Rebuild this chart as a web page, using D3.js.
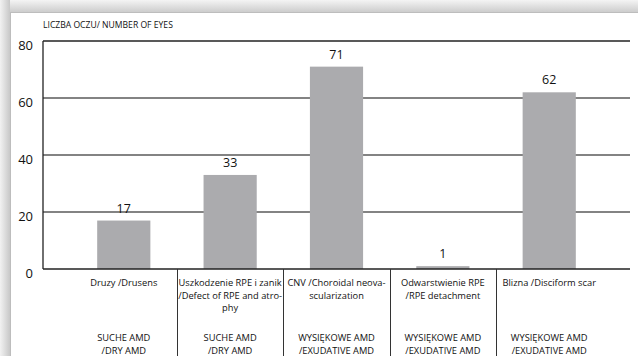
<!DOCTYPE html>
<html><head><meta charset="utf-8">
<script src="https://cdn.jsdelivr.net/npm/d3@7"></script>
<style>body{margin:0;background:#fff}svg{display:block}text{font-family:"Open Sans",sans-serif;fill:#111}</style>
</head><body><svg id="c" width="638" height="356"></svg>
<script>
const categories = [
  ["Druzy /Drusens"],
  ["Uszkodzenie RPE i zanik", "/Defect of RPE and atro-", "phy"],
  ["CNV /Choroidal neova-", "scularization"],
  ["Odwarstwienie RPE", "/RPE detachment"],
  ["Blizna /Disciform scar"]
];
const groups = [
  ["SUCHE AMD", "/DRY AMD"],
  ["SUCHE AMD", "/DRY AMD"],
  ["WYSIĘKOWE AMD", "/EXUDATIVE AMD"],
  ["WYSIĘKOWE AMD", "/EXUDATIVE AMD"],
  ["WYSIĘKOWE AMD", "/EXUDATIVE AMD"]
];
const values = [17, 33, 71, 1, 62];
const yTicks = [0, 20, 40, 60, 80];
const yTitle = "LICZBA OCZU/ NUMBER OF EYES";

(function(){
const svg = d3.select("#c");
const defs = svg.append("defs");
const gl = defs.append("linearGradient").attr("id","gl").attr("x1",0).attr("x2",1).attr("y1",0).attr("y2",0);
gl.append("stop").attr("offset",0).attr("stop-color","#f2f2f2");
gl.append("stop").attr("offset",1).attr("stop-color","#c8c8c8");
const gt = defs.append("linearGradient").attr("id","gt").attr("x1",0).attr("x2",0).attr("y1",0).attr("y2",1);
gt.append("stop").attr("offset",0).attr("stop-color","#f4f4f4");
gt.append("stop").attr("offset",1).attr("stop-color","#cdcdcd");

svg.append("rect").attr("x",0).attr("y",0).attr("width",638).attr("height",12).attr("fill","url(#gt)");
svg.append("rect").attr("x",0).attr("y",0).attr("width",10).attr("height",356).attr("fill","url(#gl)");
svg.append("rect").attr("x",10).attr("y",12).attr("width",628).attr("height",344).attr("fill","#fff");
svg.append("line").attr("x1",10).attr("x2",638).attr("y1",12.5).attr("y2",12.5).attr("stroke","#bdbdbd");
svg.append("line").attr("x1",10.5).attr("x2",10.5).attr("y1",12).attr("y2",356).attr("stroke","#bdbdbd");

const pLeft = 43, pRight = 630, pTop = 41, pBottom = 269;
const x = d3.scaleBand().domain(d3.range(values.length)).range([pLeft + 1, pRight - 1]).paddingInner(0).paddingOuter(0.25);
const y = d3.scaleLinear().domain([0, 80]).range([pBottom, pTop]);

svg.append("g").selectAll("line").data(yTicks.filter(d=>d>0)).join("line")
  .attr("x1", pLeft).attr("x2", pRight)
  .attr("y1", d=>y(d)).attr("y2", d=>y(d))
  .attr("stroke", d=> d===80 ? "#222" : "#5a5a5a").attr("stroke-width", 1.3);

const bw = x.bandwidth()*0.5;
svg.append("g").selectAll("rect").data(values).join("rect")
  .attr("x", (d,i)=>x(i)+x.bandwidth()/2-bw/2)
  .attr("width", bw)
  .attr("y", d=>y(d))
  .attr("height", d=>y(0)-y(d))
  .attr("fill", "#ababae");

svg.append("line").attr("x1",pLeft).attr("x2",pLeft).attr("y1",pTop).attr("y2",pBottom).attr("stroke","#222").attr("stroke-width",1.3);
svg.append("line").attr("x1",pLeft).attr("x2",pRight).attr("y1",pBottom).attr("y2",pBottom).attr("stroke","#222").attr("stroke-width",1.3);

svg.append("g").selectAll("text").data(yTicks).join("text")
  .attr("x", 33).attr("y", d=>y(d)+9)
  .attr("text-anchor","end").attr("font-size", 13).text(d=>d);

svg.append("text").attr("x",43).attr("y",28).attr("font-size",8.6).text(yTitle);

svg.append("g").selectAll("text").data(values).join("text")
  .attr("x",(d,i)=>x(i)+x.bandwidth()/2).attr("y", d=>y(d)-8)
  .attr("text-anchor","middle").attr("font-size",12.5).text(d=>d);

svg.append("g").selectAll("line").data(d3.range(1, values.length)).join("line")
  .attr("x1", i=>Math.round(x(i))+0.5).attr("x2", i=>Math.round(x(i))+0.5)
  .attr("y1", pBottom).attr("y2", 356).attr("stroke","#333").attr("stroke-width",1);

categories.forEach((lines,i)=>{
  const cx = x(i)+x.bandwidth()/2;
  lines.forEach((t,j)=>{
    svg.append("text").attr("x",cx).attr("y",286+j*12.5).attr("text-anchor","middle").attr("font-size",9.3).text(t);
  });
  groups[i].forEach((t,j)=>{
    svg.append("text").attr("x",cx).attr("y",341+j*12.5).attr("text-anchor","middle").attr("font-size",9.3).text(t);
  });
});
})();
</script></body></html>
